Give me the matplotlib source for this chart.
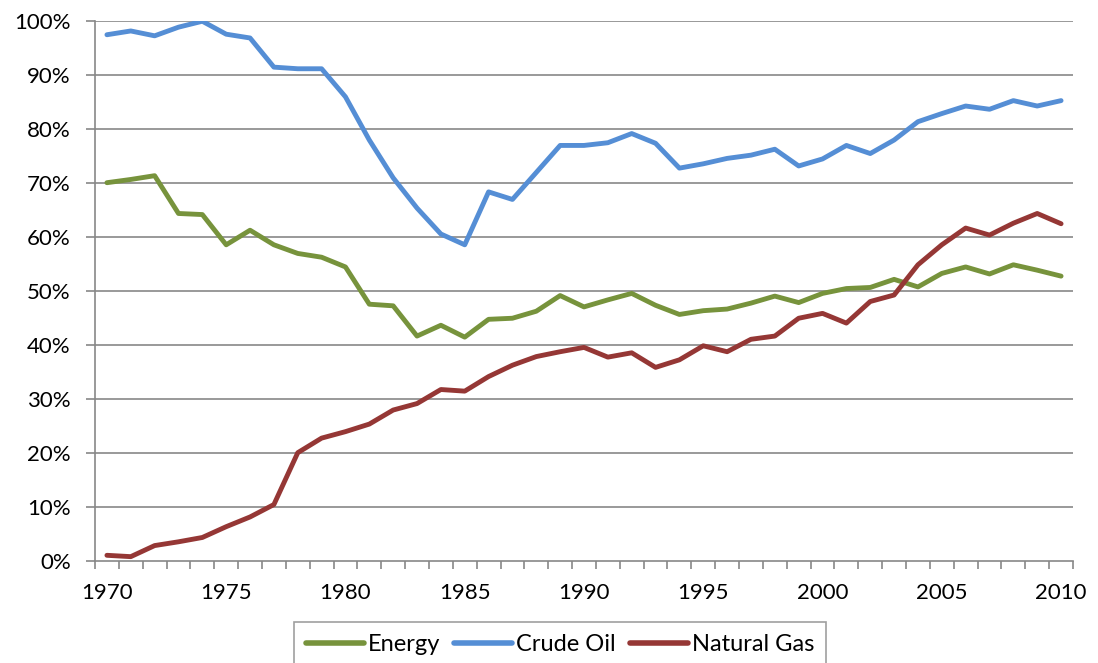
import matplotlib
matplotlib.use("Agg")
import matplotlib.pyplot as plt
import numpy as np

years = list(range(1970, 2011))

energy = [70.0, 70.6, 71.3, 64.3, 64.1, 58.5, 61.2, 58.5, 56.9, 56.2,
          54.4, 47.5, 47.2, 41.6, 43.6, 41.4, 44.7, 44.9, 46.2, 49.1,
          47.0, 48.3, 49.5, 47.3, 45.6, 46.3, 46.6, 47.7, 49.0, 47.8,
          49.5, 50.4, 50.6, 52.1, 50.7, 53.2, 54.4, 53.1, 54.8, 53.8, 52.7]

crude_oil = [97.4, 98.1, 97.2, 98.8, 99.9, 97.5, 96.8, 91.4, 91.1, 91.1,
             85.9, 77.9, 70.9, 65.3, 60.5, 58.5, 68.3, 66.9, 71.9, 76.9,
             76.9, 77.4, 79.1, 77.3, 72.7, 73.5, 74.5, 75.1, 76.2, 73.1,
             74.4, 76.9, 75.4, 77.9, 81.3, 82.8, 84.2, 83.6, 85.2, 84.2, 85.2]

natural_gas = [1.0, 0.75, 2.8, 3.5, 4.3, 6.3, 8.1, 10.4, 20.0, 22.7,
               23.9, 25.3, 27.9, 29.1, 31.7, 31.4, 34.1, 36.2, 37.8, 38.7,
               39.5, 37.7, 38.5, 35.8, 37.2, 39.8, 38.7, 41.0, 41.6, 44.9,
               45.8, 44.0, 48.0, 49.2, 54.8, 58.5, 61.6, 60.3, 62.5, 64.3, 62.4]

series_names = ["Energy", "Crude Oil", "Natural Gas"]
colors = ["#77933C", "#558ED5", "#953735"]

x_ticks = [1970, 1975, 1980, 1985, 1990, 1995, 2000, 2005, 2010]
y_ticks = [0, 10, 20, 30, 40, 50, 60, 70, 80, 90, 100]
y_labels = [f"{v}%" for v in y_ticks]

plt.rcParams['font.family'] = ['Lato', 'DejaVu Sans']

fig = plt.figure(figsize=(10.98, 6.63), dpi=100)
ax = fig.add_axes([95/1098, 1 - 560.7/663, (1073 - 95)/1098, (560.7 - 20.7)/663])

grid_color = "#878787"
for v in y_ticks[1:]:
    ax.axhline(v, color=grid_color, lw=1.2, zorder=1)

for vals, name, c in zip([energy, crude_oil, natural_gas], series_names, colors):
    ax.plot(years, vals, color=c, lw=3.5, label=name, zorder=3,
            solid_capstyle='round', solid_joinstyle='round')

ax.set_xlim(1969.5, 2010.5)
ax.set_ylim(0, 100)

ax.set_xticks(x_ticks)
ax.set_xticklabels([str(t) for t in x_ticks])
ax.set_xticks(np.arange(1969.5, 2011, 1.0), minor=True)
ax.tick_params(axis='x', which='major', length=0, pad=16, labelsize=16)
ax.tick_params(axis='x', which='minor', length=6, width=1.2, color=grid_color, direction='out')

ax.set_yticks(y_ticks)
ax.set_yticklabels(y_labels)
ax.tick_params(axis='y', which='major', length=6.5, width=1.2, color=grid_color, pad=11, labelsize=16)

for s in ['top', 'right']:
    ax.spines[s].set_visible(False)
for s in ['left', 'bottom']:
    ax.spines[s].set_color(grid_color)
    ax.spines[s].set_linewidth(1.2)

leg = ax.legend(loc='upper center', bbox_to_anchor=(560/1098, 41/663), bbox_transform=fig.transFigure,
                ncol=3, frameon=True, fancybox=False, fontsize=17, handlelength=2.45,
                handletextpad=0.17, columnspacing=0.6, borderpad=0.5, borderaxespad=0)
leg.get_frame().set_edgecolor(grid_color)
leg.get_frame().set_linewidth(1.2)
for line in leg.get_lines():
    line.set_linewidth(4)

fig.savefig("out.png", dpi=100)
